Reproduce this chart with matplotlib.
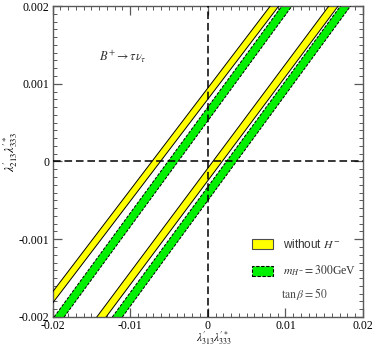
import matplotlib
matplotlib.use("Agg")
import matplotlib.pyplot as plt
from matplotlib.patches import Patch
from matplotlib.ticker import MultipleLocator

plt.rcParams["font.family"] = ["Liberation Serif", "DejaVu Serif"]
plt.rcParams["mathtext.fontset"] = "stix"

# band edges: x where each edge meets y=-0.002 (bottom) and y=+0.002 (top)
y_ends = [-0.002, 0.002]
yellow_bands = [
    {"left": [-0.02245, 0.00805], "right": [-0.02135, 0.00915]},
    {"left": [-0.0143, 0.0156], "right": [-0.0131, 0.0168]},
]
green_bands = [
    {"left": [-0.0198, 0.00955], "right": [-0.0185, 0.01085]},
    {"left": [-0.0123, 0.0171], "right": [-0.0110, 0.0184]},
]
yellow = "#ffff00"
green = "#00f000"

fig = plt.figure(figsize=(3.92, 3.47), dpi=100)
ax = fig.add_axes([0.134, 0.0865, 0.792, 0.8962])


def draw_band(band, color, ls):
    xs = band["left"] + band["right"][::-1]
    ys = y_ends + y_ends[::-1]
    ax.fill(xs, ys, color=color, lw=0, zorder=2)
    ax.plot(band["left"], y_ends, color="k", lw=0.7, ls=ls, zorder=3)
    ax.plot(band["right"], y_ends, color="k", lw=0.7, ls=ls, zorder=3)


for b in yellow_bands:
    draw_band(b, yellow, "-")
for b in green_bands:
    draw_band(b, green, (0, (3, 1.5)))

ax.axhline(0, color="k", lw=1.1, ls=(0, (5, 2.5)), zorder=4)
ax.axvline(0, color="k", lw=1.1, ls=(0, (5, 2.5)), zorder=4)

ax.set_xlim(-0.02, 0.02)
ax.set_ylim(-0.002, 0.002)
ax.xaxis.set_minor_locator(MultipleLocator(0.001))
ax.yaxis.set_minor_locator(MultipleLocator(0.0001))
ax.set_xticks([-0.02, -0.01, 0, 0.01, 0.02])
ax.set_xticklabels(["-0.02", "-0.01", "0", "0.01", "0.02"])
ax.set_yticks([-0.002, -0.001, 0, 0.001, 0.002])
ax.set_yticklabels(["-0.002", "-0.001", "0", "0.001", "0.002"])
ax.tick_params(which="both", direction="in", top=True, right=True,
               labelsize=8.5, color="0.35")
ax.tick_params(axis="x", pad=2)
ax.tick_params(axis="y", pad=2.5)
ax.tick_params(which="major", length=6.5, width=0.9)
ax.tick_params(which="minor", length=3.2, width=0.7)
for s in ax.spines.values():
    s.set_color("0.35")
    s.set_linewidth(1.0)

ax.set_xlabel(r"$\lambda^{\prime}_{313}\lambda^{\prime *}_{333}$", fontsize=8)
ax.xaxis.set_label_coords(0.52, -0.043)
ax.set_ylabel(r"$\lambda^{\prime}_{213}\lambda^{\prime *}_{333}$", fontsize=9)
ax.yaxis.set_label_coords(-0.105, 0.53)

ax.text(0.15, 0.835, r"$B^{+}\rightarrow\tau\nu_{\tau}$", transform=ax.transAxes,
        fontsize=9, color="0.2", va="center")

handles = [
    Patch(facecolor=yellow, edgecolor="0.3", lw=0.8),
    Patch(facecolor=green, edgecolor="k", lw=0.8, ls=(0, (3, 1.5))),
]
labels = [r"without $H^{-}$", r"$m_{H^{-}}=300$GeV"]
leg = ax.legend(handles, labels, loc="upper left", bbox_to_anchor=(0.628, 0.27),
                frameon=False, fontsize=8.5, handlelength=1.8, handleheight=0.9,
                handletextpad=0.8, labelspacing=1.1, borderaxespad=0)
leg.get_texts()[0].set_family(["Liberation Sans", "DejaVu Sans"])
for t in leg.get_texts():
    t.set_color("0.2")

ax.text(0.736, 0.074, r"$\tan\beta=50$", transform=ax.transAxes,
        fontsize=8.5, color="0.3", va="center")

fig.savefig("out.png", dpi=100)
